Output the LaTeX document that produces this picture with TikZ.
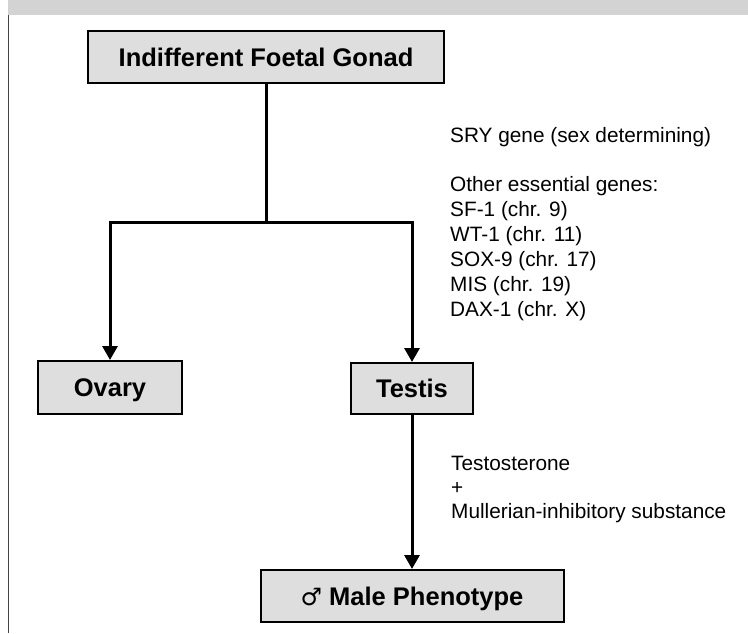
\documentclass[tikz,border=0pt]{standalone}
\usepackage{fontspec}
\setmainfont{Liberation Sans}
\newfontfamily\symfont{DejaVu Sans}
\usetikzlibrary{arrows.meta}
\definecolor{bandgray}{HTML}{D3D3D3}
\definecolor{boxgray}{HTML}{DEDEDE}
\definecolor{framegray}{HTML}{444444}
\tikzset{
  stagebox/.style={draw=black, fill=boxgray, line width=2pt, inner sep=0pt,
    text height=18.3pt, text depth=0pt,
    font=\fontsize{25.5}{30}\selectfont\bfseries},
  link/.style={line width=3pt, line cap=rect},
  arrowlink/.style={line width=3pt, -{Triangle[width=15pt,length=14pt]}},
  note/.style={anchor=base west, inner sep=0pt, font=\fontsize{20.8}{24}\selectfont}
}
\begin{document}
\begin{tikzpicture}[x=1pt,y=-1pt]
\useasboundingbox (0,0) rectangle (748,633);
% header band and frame
\fill[bandgray] (8,0) rectangle (748,15);
\draw[framegray, line width=1pt] (8.5,15) -- (8.5,633);
% boxes
\node[stagebox, minimum width=356pt, minimum height=52pt] (gonad) at (266,57) {Indifferent Foetal Gonad};
\node[stagebox, minimum width=144pt, minimum height=53pt] (ovary) at (110,387.5) {Ovary};
\node[stagebox, minimum width=122pt, minimum height=51pt] (testis) at (412,388.5) {Testis};
\node[stagebox, minimum width=303pt, minimum height=52pt] (male) at (412,596) {{\symfont\mdseries\fontsize{24}{28}\selectfont ♂} Male Phenotype};
% connectors
\coordinate (j) at (266,222);
\draw[link] (gonad.south) -- (j);
\draw[arrowlink] (j) -| (ovary.north);
\draw[arrowlink] (j) -| (testis.north);
\draw[arrowlink] (testis.south) -- (male.north);
% gene notes
\node[note] (sry) at (450,142.7) {SRY gene (sex determining)};
\node[note] (other) at (450,191.7) {Other essential genes:};
\node[note] (sf1) at (450,216.5) {SF-1 (chr. 9)};
\node[note] (wt1) at (450,241.3) {WT-1 (chr. 11)};
\node[note] (sox9) at (450,266) {SOX-9 (chr. 17)};
\node[note] (mis) at (450,291) {MIS (chr. 19)};
\node[note] (dax1) at (450,316) {DAX-1 (chr. X)};
% hormone notes
\node[note] (testo) at (451,470.7) {Testosterone};
\node[note] (plus) at (451,494.5) {+};
\node[note] (mis2) at (451,518.3) {Mullerian-inhibitory substance};
\end{tikzpicture}
\end{document}
